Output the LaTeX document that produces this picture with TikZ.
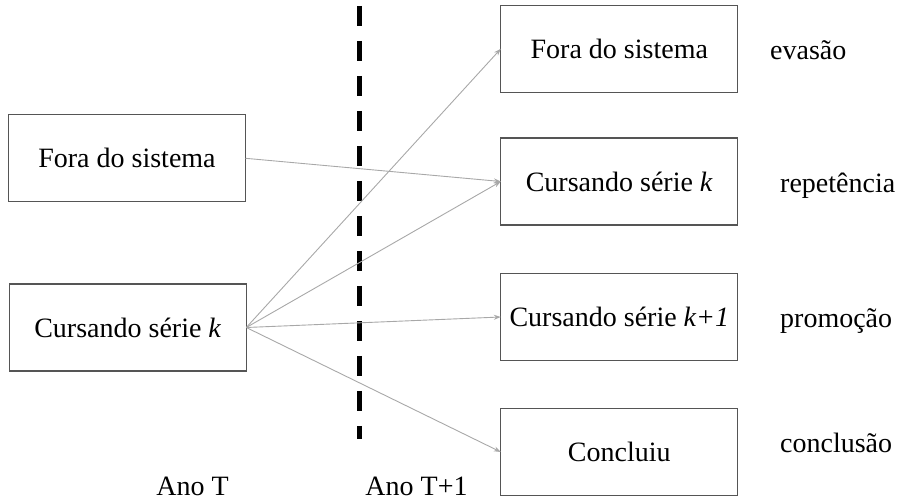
\documentclass[tikz,border=0pt]{standalone}
\usepackage{fontspec}
\setmainfont{Liberation Serif}
\usetikzlibrary{arrows.meta}
\definecolor{boxline}{HTML}{555555}
\definecolor{arrowgray}{HTML}{A8A8A8}
\begin{document}
\begin{tikzpicture}[x=1pt,y=-1pt,
  statebox/.style={draw=boxline,line width=1.2pt,minimum width=237pt,minimum height=87pt,inner sep=0pt,outer sep=0pt,font=\fontsize{28}{33}\selectfont},
  flow/.style={draw=arrowgray,line width=0.9pt,-{Stealth[length=7pt,width=5pt]}},
  lbl/.style={anchor=base west,inner sep=0pt,font=\fontsize{28}{33}\selectfont},
  yearlbl/.style={anchor=base,inner sep=0pt,font=\fontsize{28}{33}\selectfont},
  divider/.style={line width=5pt,dash pattern=on 20pt off 15pt}]
\useasboundingbox (0,0) rectangle (900,502);
\node[statebox] (lfora) at (127,158.3) {Fora do sistema};
\node[statebox] (lcurs) at (127.8,327.5) {Cursando série \textit{k}};
\node[statebox] (rfora) at (619.3,48.8) {Fora do sistema};
\node[statebox] (rcurs) at (619.3,181.5) {Cursando série \textit{k}};
\node[statebox] (rprom) at (619.3,317) {Cursando série \textit{k+1}};
\node[statebox] (rconc) at (619.3,452) {Concluiu};
\node[lbl] (evasao) at (770,60) {evasão};
\node[lbl] (repet) at (780,193) {repetência};
\node[lbl] (promo) at (780,328) {promoção};
\node[lbl] (concl) at (780,453) {conclusão};
\node[yearlbl] (anoT) at (192.5,495) {Ano T};
\node[yearlbl] (anoT1) at (416.5,495) {Ano T+1};
\coordinate (dtop) at (359.3,6);
\coordinate (dbot) at (359.3,439);
\draw[divider] (dtop) -- (dbot);
\draw[flow] (lfora.east) -- (rcurs.west);
\draw[flow] (lcurs.east) -- (rfora.west);
\draw[flow] (lcurs.east) -- (rcurs.west);
\draw[flow] (lcurs.east) -- (rprom.west);
\draw[flow] (lcurs.east) -- (rconc.west);
\end{tikzpicture}
\end{document}
